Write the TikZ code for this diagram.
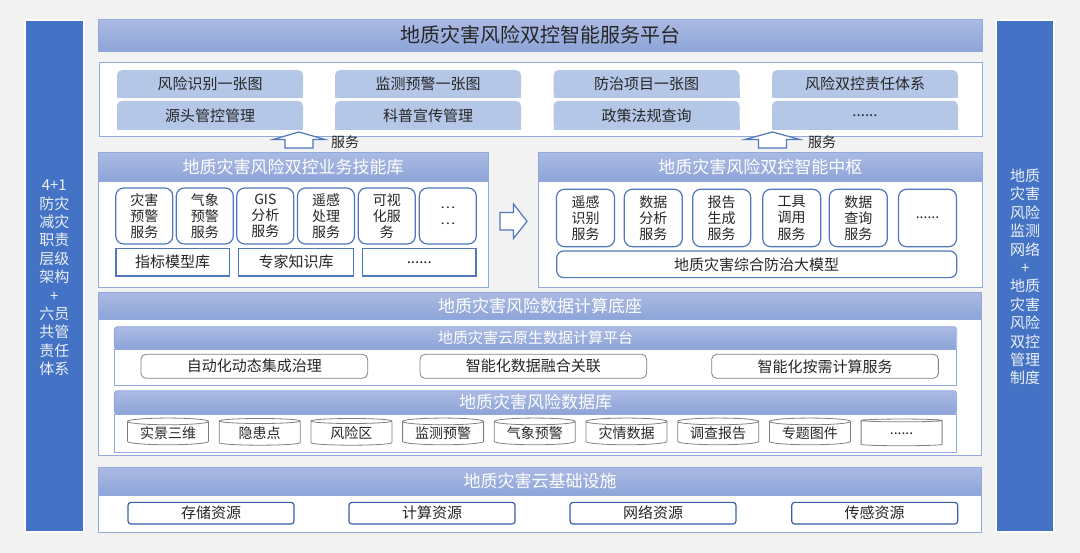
\documentclass[tikz,border=0pt]{standalone}
\usepackage{fontspec}
\setmainfont{Noto Sans CJK SC}
\usetikzlibrary{shapes.geometric}
\definecolor{bggray}{HTML}{F2F2F2}
\definecolor{barblue}{HTML}{4472C4}
\definecolor{ttop}{HTML}{ABBAE3}
\definecolor{tbot}{HTML}{8DA4D8}
\definecolor{pline}{HTML}{8FAADC}
\definecolor{itemfill}{HTML}{B4C7E7}
\definecolor{boxline}{HTML}{4F77BE}
\definecolor{greyline}{HTML}{808080}
\definecolor{darkline}{HTML}{3A5FA8}
\definecolor{txt}{HTML}{262626}

\begin{document}
\begin{tikzpicture}[x=1pt, y=-1pt,
  sidebar/.style={fill=barblue, draw=white, line width=2pt, minimum width=58.5, minimum height=512, inner sep=0},
  sidetext/.style={text=white!90!barblue, align=center, font=\fontsize{15}{18.4}\selectfont, inner sep=0},
  titlebar/.style={top color=ttop, bottom color=tbot, draw=pline, line width=0.8pt, inner sep=0, text=white, font=\fontsize{17}{20}\selectfont},
  body/.style={fill=white, draw=pline, line width=0.8pt, inner sep=0},
  topitem/.style={fill=itemfill, rounded corners=5, minimum width=186, inner sep=0, text=txt, font=\fontsize{15}{18}\selectfont},
  svc/.style={draw=boxline, line width=1.2pt, fill=white, rounded corners=8, minimum width=57, minimum height=56, inner sep=0, align=center, text=txt, font=\fontsize{14}{16.3}\selectfont},
  lib/.style={draw=boxline, line width=1.2pt, fill=white, minimum height=27.7, inner sep=0, text=txt, font=\fontsize{15}{18}\selectfont},
  proc/.style={draw=greyline, line width=0.8pt, fill=white, rounded corners=5, minimum width=226.7, minimum height=24, inner sep=0, text=txt, font=\fontsize{15}{18}\selectfont},
  db/.style={cylinder, shape border rotate=90, aspect=0.12, draw=greyline, line width=0.8pt, fill=white, minimum width=81, minimum height=26.7, inner sep=0, text=txt, font=\fontsize{14}{16}\selectfont},
  res/.style={draw=darkline, line width=1.2pt, fill=white, rounded corners=3, minimum width=166, minimum height=21.7, inner sep=0, text=txt, font=\fontsize{15}{18}\selectfont},
  blockarrow/.style={draw=boxline, line width=1.2pt, fill=white, line join=miter},
  svclabel/.style={text=txt, font=\fontsize{14}{16}\selectfont, inner sep=0}
]

    \fill [bggray] (0,0) rectangle (1080,553);
    \useasboundingbox (0,0) rectangle (1080,553);

    \node [sidebar] (lbar) at (54.3,276) {};
    \node [sidetext] (ltxt) at (54.3,278) {4+1\\防灾\\减灾\\职责\\层级\\架构\\+\\六员\\共管\\责任\\体系};
    \node [sidebar] (rbar) at (1025.2,276) {};
    \node [sidetext] (rtxt) at (1025.2,277) {地质\\灾害\\风险\\监测\\网络\\+\\地质\\灾害\\风险\\双控\\管理\\制度};

    \node [titlebar, minimum width=884, minimum height=31.5, text=txt, font=\fontsize{20}{24}\selectfont] (plat) at (540,35.3) {地质灾害风险双控智能服务平台};
    \node [body, minimum width=883, minimum height=74] (platbody) at (540.5,99) {};

    \foreach \cx in {210,428,646.5,865} {
      \fill [itemfill] (\cx-93,91) rectangle (\cx+93,98.1);
      \fill [itemfill] (\cx-93,123) rectangle (\cx+93,129.8);
    }
    \node [topitem, minimum height=28] (t1) at (210,84.1) {风险识别一张图};
    \node [topitem, minimum height=28] (t2) at (428,84.1) {监测预警一张图};
    \node [topitem, minimum height=28] (t3) at (646.5,84.1) {防治项目一张图};
    \node [topitem, minimum height=28] (t4) at (865,84.1) {风险双控责任体系};
    \node [topitem, minimum height=29] (t5) at (210,115.3) {源头管控管理};
    \node [topitem, minimum height=29] (t6) at (428,115.3) {科普宣传管理};
    \node [topitem, minimum height=29] (t7) at (646.5,115.3) {政策法规查询};
    \node [topitem, minimum height=29] (t8) at (865,115.3) {......};

    \draw [blockarrow] (299,132) -- (325,139.5) -- (313,139.5) -- (313,148) -- (285,148) -- (285,139.5) -- (273,139.5) -- cycle;
    \node [svclabel] (sv1) at (345,142.5) {服务};
    \draw [blockarrow] (772.5,132) -- (800,139.5) -- (786.5,139.5) -- (786.5,148) -- (758.5,148) -- (758.5,139.5) -- (745,139.5) -- cycle;
    \node [svclabel] (sv2) at (822,142.5) {服务};

    \node [titlebar, minimum width=390, minimum height=29] (skill) at (293,167) {地质灾害风险双控业务技能库};
    \node [body, minimum width=390, minimum height=105.5] (skillbody) at (293,234.25) {};
    \node [svc] (a1) at (144.3,216) {灾害\\预警\\服务};
    \node [svc] (a2) at (204.8,216) {气象\\预警\\服务};
    \node [svc] (a3) at (265.3,216) {GIS\\分析\\服务};
    \node [svc] (a4) at (326,216) {遥感\\处理\\服务};
    \node [svc] (a5) at (386.8,216) {可视\\化服\\务};
    \node [svc] (a6) at (447.8,216) {…\\…};
    \node [lib, minimum width=113.3] (m1) at (172.7,262.2) {指标模型库};
    \node [lib, minimum width=114.6] (m2) at (296,262.2) {专家知识库};
    \node [lib, minimum width=113.3] (m3) at (419.3,262.2) {......};

    \draw [blockarrow] (500,212.5) -- (513.5,212.5) -- (513.5,204) -- (527,221.3) -- (513.5,238.5) -- (513.5,230) -- (500,230) -- cycle;

    \node [titlebar, minimum width=443.5, minimum height=29] (hub) at (760.25,167) {地质灾害风险双控智能中枢};
    \node [body, minimum width=443.5, minimum height=105.5] (hubbody) at (760.25,234.25) {};
    \node [svc, minimum width=58, minimum height=57.4] (b1) at (585.5,218) {遥感\\识别\\服务};
    \node [svc, minimum width=58, minimum height=57.4] (b2) at (653.3,218) {数据\\分析\\服务};
    \node [svc, minimum width=58, minimum height=57.4] (b3) at (721.7,218) {报告\\生成\\服务};
    \node [svc, minimum width=58, minimum height=57.4] (b4) at (791.7,218) {工具\\调用\\服务};
    \node [svc, minimum width=58, minimum height=57.4] (b5) at (858.3,218) {数据\\查询\\服务};
    \node [svc, minimum width=58, minimum height=57.4] (b6) at (927.5,218) {......};
    \node [svc, minimum width=400, minimum height=26.7, rounded corners=7, font=\fontsize{15}{18}\selectfont] (llm) at (756.7,264.3) {地质灾害综合防治大模型};

    \node [titlebar, minimum width=883.2, minimum height=26.6] (base) at (540.1,306) {地质灾害风险数据计算底座};
    \node [body, minimum width=883.2, minimum height=136.4] (basebody) at (540.1,387.5) {};
    \node [titlebar, rounded corners=3, minimum width=842.4, minimum height=22.6, font=\fontsize{15}{18}\selectfont] (cloud) at (535.5,338) {地质灾害云原生数据计算平台};
    \node [body, minimum width=842.4, minimum height=36.4] (cloudbody) at (535.5,367.5) {};
    \node [proc] (p1) at (254.3,366.3) {自动化动态集成治理};
    \node [proc] (p2) at (533.3,366.3) {智能化数据融合关联};
    \node [proc] (p3) at (825,366.3) {智能化按需计算服务};

    \node [titlebar, rounded corners=3, minimum width=842.4, minimum height=23.6] (dbase) at (535.5,402.5) {地质灾害风险数据库};
    \node [body, minimum width=842.4, minimum height=38] (dbasebody) at (535.5,433.3) {};
    \node [db] (d1) at (168,433.3) {实景三维};
    \node [db] (d2) at (259.7,433.3) {隐患点};
    \node [db] (d3) at (351.4,433.3) {风险区};
    \node [db] (d4) at (443.1,433.3) {监测预警};
    \node [db] (d5) at (534.8,433.3) {气象预警};
    \node [db] (d6) at (626.5,433.3) {灾情数据};
    \node [db] (d7) at (718.2,433.3) {调查报告};
    \node [db] (d8) at (809.9,433.3) {专题图件};
    \node [db] (d9) at (901.6,433.3) {......};

    \node [titlebar, minimum width=883, minimum height=28.4] (infra) at (540,481.5) {地质灾害云基础设施};
    \node [body, minimum width=883, minimum height=37] (infrabody) at (540,514.2) {};
    \node [res] (r1) at (211,513.2) {存储资源};
    \node [res] (r2) at (432,513.2) {计算资源};
    \node [res] (r3) at (653,513.2) {网络资源};
    \node [res] (r4) at (874.7,513.2) {传感资源};

\end{tikzpicture}
\end{document}
